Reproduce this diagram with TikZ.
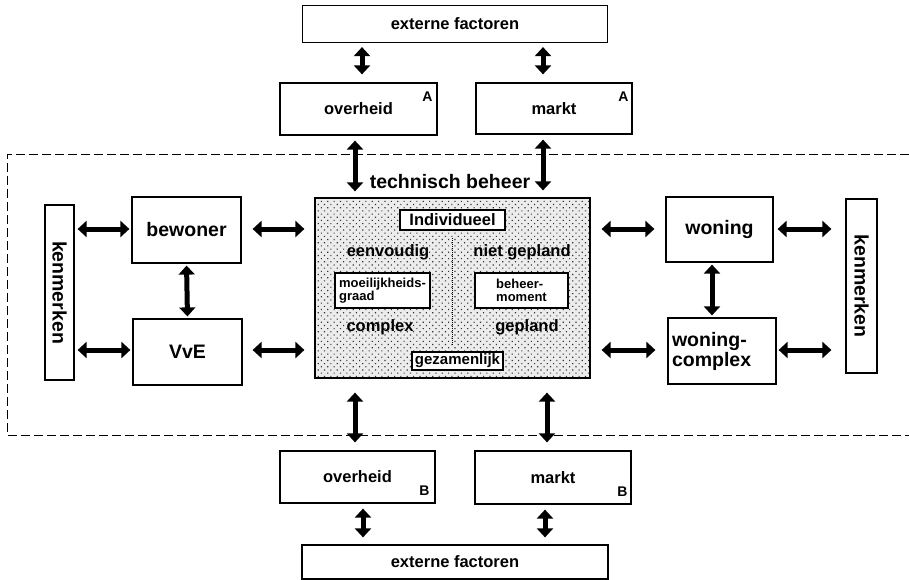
\documentclass[tikz,border=0pt]{standalone}
\usepackage{fontspec}
\setmainfont{Liberation Sans}
\usetikzlibrary{arrows.meta,positioning,calc,patterns.meta}

\begin{document}
\begin{tikzpicture}[
  x=1pt,y=-1pt,
  lbl/.style={font=\bfseries\fontsize{16.5}{17}\selectfont},
  big/.style={font=\bfseries\fontsize{19.5}{20}\selectfont},
  sml/.style={font=\bfseries\fontsize{13}{13.5}\selectfont},
  tag/.style={font=\bfseries\fontsize{14}{14}\selectfont,inner sep=0pt},
  box/.style={draw,line width=1.2pt,fill=white,inner sep=2pt,align=center},
  dbl/.style={{Triangle[length=9pt,width=16pt]}-{Triangle[length=9pt,width=16pt]},
              line width=5pt},
  frame/.style={line width=1pt,dash pattern=on 9pt off 4pt}
]
\useasboundingbox (0,0) rectangle (909,580);

% boundary of the system
\draw[frame] (909,155) -- (7,155) -- (7,435) -- (909,435);

% environment, top
\node[box,lbl,minimum width=305pt,minimum height=37pt] (extA) at (455,24) {externe factoren};
\node[box,lbl,minimum width=157pt,minimum height=52pt] (ovA) at (358.5,109) {overheid};
\node[box,lbl,minimum width=156pt,minimum height=51pt] (mkA) at (554,108.5) {markt};
\node[tag,anchor=north east] (ovAl) at ([xshift=-5pt,yshift=-9pt]ovA.north east) {A};
\node[tag,anchor=north east] (mkAl) at ([xshift=-4pt,yshift=-9pt]mkA.north east) {A};

% technisch beheer
\node[draw,line width=1.2pt,minimum width=275pt,minimum height=180pt,
      preaction={fill=gray!15},
      pattern={Dots[distance=4.5pt,radius=0.8pt,angle=45]},pattern color=black!80] (tb) at (452.5,288) {};
\node[big] (tbl) at (450,182) {technisch beheer};
\draw[densely dotted,line width=1pt] (452,238) -- (452,346);
\node[box,lbl,minimum width=105pt,minimum height=20pt,inner sep=0.5pt] (indiv) at (452.5,220) {Individueel};
\node[lbl] (eenv) at (388,252) {eenvoudig};
\node[lbl] (niet) at (522,252) {niet gepland};
\node[box,sml,align=left,minimum width=95pt,minimum height=35pt,inner sep=1pt] (moeil) at (382.5,290.5) {moeilijkheids-\\graad};
\node[box,sml,align=left,minimum width=93pt,minimum height=35pt] (behm) at (521.5,290.5) {beheer-\\moment};
\node[lbl] (cplx) at (380,327) {complex};
\node[lbl] (gepl) at (527,327) {gepland};
\node[box,font=\bfseries\fontsize{15}{15}\selectfont,minimum width=91pt,minimum height=18pt,inner sep=0pt] (gezam) at (457.5,361) {gezamenlijk};

% left side
\node[box,minimum width=29pt,minimum height=175pt] (kenL) at (59.5,292.5) {};
\node[big,rotate=-90,inner sep=0pt] (kenLt) at (kenL) {kenmerken};
\node[box,big,minimum width=109pt,minimum height=66pt] (bew) at (186.5,230) {bewoner};
\node[box,big,minimum width=109pt,minimum height=66pt] (vve) at (187.5,352) {VvE};

% right side
\node[box,big,minimum width=107pt,minimum height=65pt] (won) at (719.5,229.5) {woning};
\node[box,big,align=left,text width=100pt,minimum width=108pt,minimum height=66pt] (wonc) at (722,351) {woning-\\complex};
\node[box,minimum width=31pt,minimum height=174pt] (kenR) at (861.5,286) {};
\node[big,rotate=-90,inner sep=0pt] (kenRt) at (kenR) {kenmerken};

% environment, bottom
\node[box,lbl,minimum width=155pt,minimum height=52pt] (ovB) at (357.5,477) {overheid};
\node[box,lbl,minimum width=156pt,minimum height=53pt] (mkB) at (553,477.5) {markt};
\node[tag,anchor=south east] (ovBl) at ([xshift=-6pt,yshift=8pt]ovB.south east) {B};
\node[tag,anchor=south east] (mkBl) at ([xshift=-4pt,yshift=8pt]mkB.south east) {B};
\node[box,lbl,minimum width=306pt,minimum height=34pt] (extB) at (455,562) {externe factoren};

% connections
\draw[dbl,shorten <=4pt,shorten >=8pt] (extA.south -| 362,0) -- (ovA.north -| 362,0);
\draw[dbl,shorten <=4pt,shorten >=8pt] (extA.south -| 543,0) -- (mkA.north -| 543,0);
\draw[dbl,shorten <=5pt,shorten >=6pt] (ovA.south -| 355,0) -- (tb.north -| 355,0);
\draw[dbl,shorten <=5pt,shorten >=7pt] (mkA.south -| 543,0) -- (tb.north -| 543,0);

\draw[dbl,shorten <=3pt,shorten >=2pt] (kenL.east |- 0,229) -- (bew.west |- 0,229);
\draw[dbl,shorten <=3pt,shorten >=2pt] (kenL.east |- 0,350) -- (vve.west |- 0,350);
\draw[dbl,shorten <=11pt,shorten >=10pt] (bew.east |- 0,229) -- (tb.west |- 0,229);
\draw[dbl,shorten <=10pt,shorten >=10pt] (vve.east |- 0,350) -- (tb.west |- 0,350);
\draw[dbl,shorten <=2pt,shorten >=2pt] (bew.south) -- (vve.north);

\draw[dbl,shorten <=11pt,shorten >=11pt] (tb.east |- 0,229) -- (won.west |- 0,229);
\draw[dbl,shorten <=11pt,shorten >=12pt] (tb.east |- 0,350) -- (wonc.west |- 0,350);
\draw[dbl,shorten <=4pt,shorten >=14pt] (won.east |- 0,229) -- (kenR.west |- 0,229);
\draw[dbl,shorten <=2pt,shorten >=14pt] (wonc.east |- 0,350) -- (kenR.west |- 0,350);
\draw[dbl,shorten <=2pt,shorten >=2pt] (won.south -| 712,0) -- (wonc.north -| 712,0);

\draw[dbl,shorten <=14pt,shorten >=8pt] (tb.south -| 355,0) -- (ovB.north -| 355,0);
\draw[dbl,shorten <=14pt,shorten >=8pt] (tb.south -| 547,0) -- (mkB.north -| 547,0);
\draw[dbl,shorten <=5pt,shorten >=7pt] (ovB.south -| 363,0) -- (extB.north -| 363,0);
\draw[dbl,shorten <=5pt,shorten >=7pt] (mkB.south -| 545,0) -- (extB.north -| 545,0);
\end{tikzpicture}
\end{document}
